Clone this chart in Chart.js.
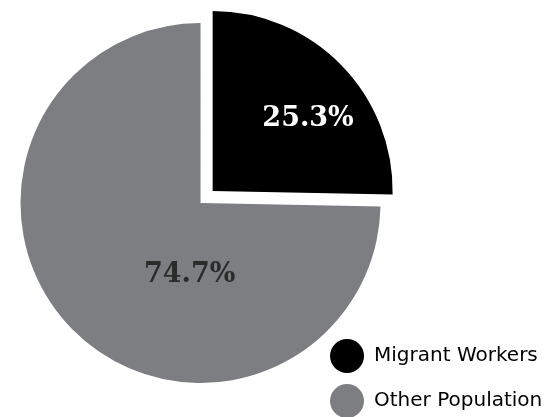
<!DOCTYPE html>
<html>
<head>
<meta charset="utf-8">
<script src="https://cdn.jsdelivr.net/npm/chart.js@4.4.0/dist/chart.umd.min.js"></script>
<style>
  html, body { margin: 0; padding: 0; background: #fff; overflow: hidden; }
  /* canvas a bit taller than the window and pulled up, so the pie sits where the legend can't push it */
  #wrap { width: 553px; height: 428px; margin-top: -11px; position: relative; }
</style>
</head>
<body>
<div id="wrap"><canvas id="pie"></canvas></div>
<script>
var categories = ["Migrant Workers", "Other Population"];
var shares = [25.3, 74.7];
var sliceColors = ["#000000", "#7d7e82"];
var labelColors = ["#ffffff", "#2b2b2b"];
var explode = [68, 0];   // chart.js moves an arc by offset / 4

// where each percentage sits, in fractions of the radius from the slice tip
var labelSpots = [[0.53, -0.40], [-0.06, 0.40]];

var pctLabels = {
  id: 'pctLabels',
  afterDatasetsDraw: function(chart) {
    var ctx = chart.ctx;
    var meta = chart.getDatasetMeta(0);
    ctx.save();
    ctx.font = 'bold 27px "DejaVu Serif", serif';
    ctx.textAlign = 'center';
    ctx.textBaseline = 'middle';
    meta.data.forEach(function(arc, i) {
      var mid = (arc.startAngle + arc.endAngle) / 2;
      var off = (arc.options.offset || 0) / 4;
      var cx = arc.x + Math.cos(mid) * off;
      var cy = arc.y + Math.sin(mid) * off;
      var r = arc.outerRadius;
      ctx.fillStyle = labelColors[i];
      ctx.fillText(shares[i].toFixed(1) + '%', cx + labelSpots[i][0] * r, cy + labelSpots[i][1] * r);
    });
    ctx.restore();
  }
};

var chart = new Chart(document.getElementById('pie'), {
  type: 'pie',
  data: {
    labels: categories,
    datasets: [{
      data: shares,
      backgroundColor: sliceColors,
      borderWidth: 0,
      offset: explode,
      hoverOffset: 0,
      radius: 180,
      clip: false
    }]
  },
  options: {
    responsive: true,
    maintainAspectRatio: false,
    animation: false,
    layout: {
      padding: { left: 82, right: 0.75, top: 0, bottom: -12 }
    },
    plugins: {
      tooltip: { enabled: false },
      legend: {
        position: 'right',
        align: 'end',
        labels: {
          boxWidth: 34,
          boxHeight: 34,
          useBorderRadius: true,
          borderRadius: 17,
          padding: 11,
          color: '#222',
          font: { family: '"DejaVu Sans", sans-serif', size: 20 },
          generateLabels: function(ch) {
            return categories.map(function(name, i) {
              return {
                text: name,
                fillStyle: sliceColors[i],
                strokeStyle: sliceColors[i],
                lineWidth: 0,
                borderRadius: 17,
                hidden: false,
                index: i
              };
            });
          }
        }
      }
    }
  },
  plugins: [pctLabels]
});
</script>
</body>
</html>
